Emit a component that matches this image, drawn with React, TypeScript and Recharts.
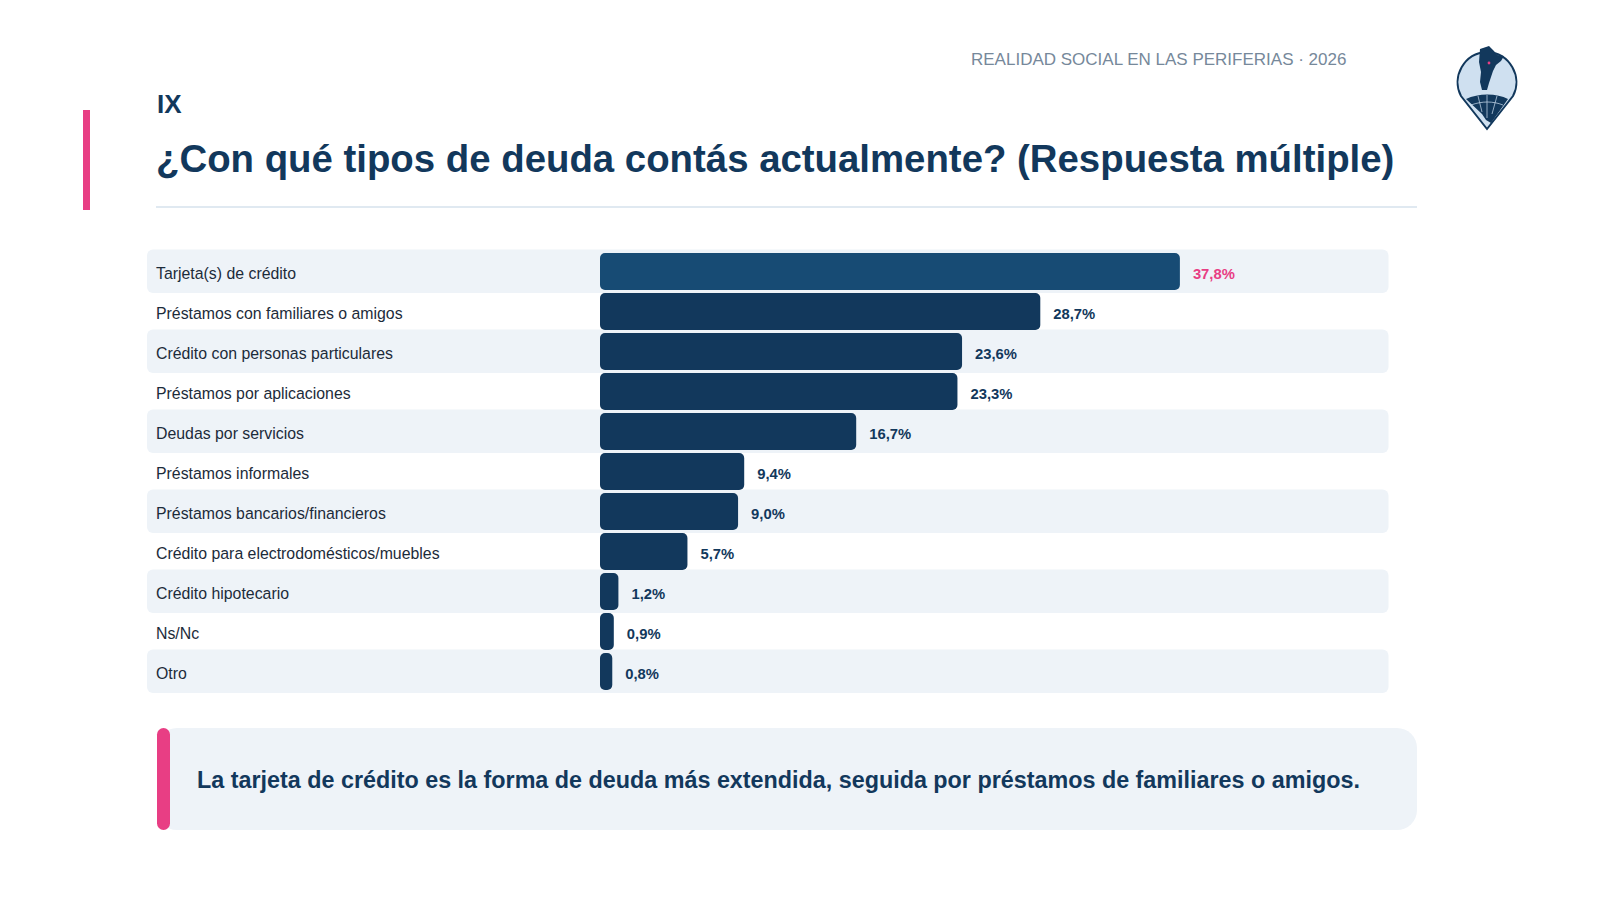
import { BarChart, Bar, XAxis, YAxis, LabelList } from 'recharts'

const categories = [
  'Tarjeta(s) de crédito',
  'Préstamos con familiares o amigos',
  'Crédito con personas particulares',
  'Préstamos por aplicaciones',
  'Deudas por servicios',
  'Préstamos informales',
  'Préstamos bancarios/financieros',
  'Crédito para electrodomésticos/muebles',
  'Crédito hipotecario',
  'Ns/Nc',
  'Otro',
]
const values = [37.8, 28.7, 23.6, 23.3, 16.7, 9.4, 9.0, 5.7, 1.2, 0.9, 0.8]

const chartData = categories.map((name, i) => ({ name, value: values[i] }))

const FONT = '"Liberation Sans", Arial, sans-serif'
const NAVY = '#12385c'
const HIGHLIGHT = '#174b74'
const PINK = '#e83e84'
const STRIPE = '#eef3f8'
const AXIS_WIDTH = 453

const CategoryTick = ({ x, y, payload }: any) => (
  <text x={x - AXIS_WIDTH + 17} y={y} dy={8} fontSize={15.85} fontFamily={FONT} fill="#1c2b3a">
    {payload.value}
  </text>
)

// every other row gets a pale band running under the labels too
const RowBackground = ({ x, y, width, height, index }: any) =>
  index % 2 === 0 ? (
    <rect x={x - AXIS_WIDTH} y={y - 3.5} width={width + AXIS_WIDTH + 1.5} height={height + 6.5} rx={6} fill={STRIPE} />
  ) : (
    <g />
  )

const BarShape = ({ x, y, width, height, index }: any) => {
  const r = Math.min(5, width / 2)
  return <rect x={x} y={y} width={width} height={height} rx={r} fill={index === 0 ? HIGHLIGHT : NAVY} />
}

const ValueLabel = ({ x, y, width, height, value, index }: any) => (
  <text
    x={x + width + 13}
    y={y + height / 2 + 4}
    dominantBaseline="middle"
    fontSize={14.8}
    fontWeight={700}
    fontFamily={FONT}
    fill={index === 0 ? PINK : NAVY}
  >
    {value.toFixed(1).replace('.', ',')}%
  </text>
)

const Logo = () => (
  <svg width={66} height={90} viewBox="0 0 66 90" style={{ position: 'absolute', left: 1454, top: 44 }}>
    <path d="M33 85 L7 52 C-3 33 10 9 33 8 C56 9 69 33 59 52 Z" fill="#cfe0f0" stroke={NAVY} strokeWidth={2} />
    <path d="M12 55 C24 49 43 49 54 55 L37 79 L32 76 L28 70 Z" fill={NAVY} />
    <path d="M33 51 V74 M24 52 L28 68 M43 52 L38 70 M17 61 C28 57 39 57 49 61" stroke="#cfe0f0" strokeWidth={0.7} fill="none" />
    <path d="M26 5 L35 2 L40 7 L43 11 L50 12 L47 17 L42 21 L39 27 L37 33 L35 39 L33 46 L28 46 L26 38 L27 28 L25 18 Z" fill={NAVY} />
    <circle cx={35} cy={19} r={1.4} fill={PINK} />
  </svg>
)

export default function App() {
  return (
    <div style={{ position: 'absolute', left: 0, top: 0, width: 1600, height: 900, background: '#fff', fontFamily: FONT, overflow: 'hidden' }}>
      <div style={{ position: 'absolute', left: 971, top: 50, fontSize: 17, color: '#76889a', whiteSpace: 'nowrap' }}>
        REALIDAD SOCIAL EN LAS PERIFERIAS · 2026
      </div>
      <Logo />
      <div style={{ position: 'absolute', left: 83, top: 110, width: 7, height: 100, background: PINK }} />
      <div style={{ position: 'absolute', left: 157, top: 89, fontSize: 26, fontWeight: 700, color: NAVY }}>IX</div>
      <div style={{ position: 'absolute', left: 156, top: 137, fontSize: 38.37, fontWeight: 700, color: NAVY, whiteSpace: 'nowrap' }}>
        ¿Con qué tipos de deuda contás actualmente? (Respuesta múltiple)
      </div>
      <div style={{ position: 'absolute', left: 156, top: 206, width: 1261, height: 2, background: '#e0e9f1' }} />

      <div style={{ position: 'absolute', left: 147, top: 241 }}>
        <BarChart
          width={1260}
          height={460}
          data={chartData}
          layout="vertical"
          margin={{ top: 10, right: 20, bottom: 10, left: 0 }}
          barCategoryGap={3}
        >
          <XAxis type="number" domain={[0, 51.3]} hide />
          <YAxis
            type="category"
            dataKey="name"
            width={AXIS_WIDTH}
            axisLine={false}
            tickLine={false}
            interval={0}
            tick={<CategoryTick />}
          />
          <Bar dataKey="value" barSize={37} isAnimationActive={false} background={<RowBackground />} shape={<BarShape />}>
            <LabelList dataKey="value" content={<ValueLabel />} />
          </Bar>
        </BarChart>
      </div>

      <div style={{ position: 'absolute', left: 157, top: 728, width: 1260, height: 102, background: STRIPE, borderRadius: 20 }} />
      <div style={{ position: 'absolute', left: 157, top: 728, width: 13, height: 102, background: PINK, borderRadius: 7 }} />
      <div style={{ position: 'absolute', left: 197, top: 767, fontSize: 23.33, fontWeight: 700, color: NAVY, whiteSpace: 'nowrap' }}>
        La tarjeta de crédito es la forma de deuda más extendida, seguida por préstamos de familiares o amigos.
      </div>
    </div>
  )
}
